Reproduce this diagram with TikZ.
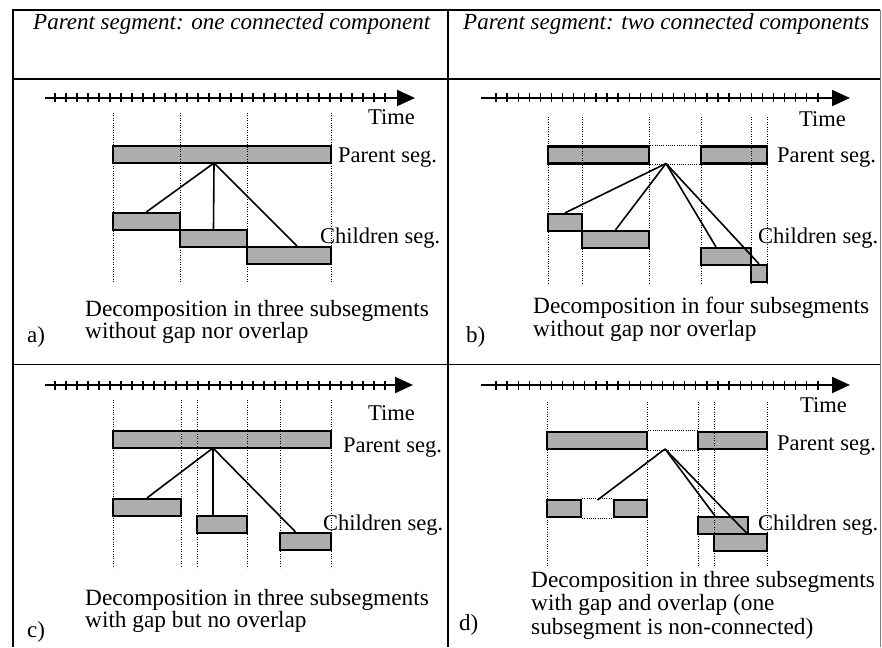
\documentclass[tikz,border=0pt]{standalone}
\usepackage{fontspec}
\setmainfont{Liberation Serif}
\usetikzlibrary{arrows.meta}
\begin{document}
\begin{tikzpicture}[x=1pt,y=-1pt]
    \useasboundingbox (0,0) rectangle (882,647);
    \tikzstyle{frame}=[line width=1.4pt]
    \tikzstyle{seg}=[draw, line width=2.2pt, fill=black!32, inner sep=0pt, minimum height=17pt]
    \tikzstyle{lbl}=[inner sep=0pt, anchor=base west, font=\fontsize{22.5}{24}\selectfont]
    \tikzstyle{head}=[inner sep=0pt, anchor=base west, font=\fontsize{23}{25}\selectfont\itshape]
    \tikzstyle{capt}=[inner sep=0pt, anchor=north west, align=left, font=\fontsize{23.3}{22.5}\selectfont]
    \tikzstyle{grid}=[line width=0.9pt, dash pattern=on 1pt off 1.4pt]
    \tikzstyle{gap}=[line width=1.1pt, dash pattern=on 1pt off 1.2pt]
    \tikzstyle{link}=[line width=1.6pt]
    \tikzstyle{tick}=[line width=1.3pt]
    \tikzstyle{axis}=[line width=2pt, -{Triangle[length=18pt,width=16pt]}]

    % frame
    \draw[frame] (13,647) -- (13,10) -- (880,10);
    \draw[frame] (448,10) -- (448,647);
    \draw[frame] (13,79) -- (880,79);
    \draw[frame] (13,364.5) -- (880,364.5);
    \draw[gray, line width=0.8pt] (880,10) -- (880,647);
    \node[head] (headA) at (33,30) {Parent segment: one connected component};
    \node[head] (headB) at (463,30) {Parent segment: two connected components};

    % a)
    \draw[axis] (45,98) -- (415,98);
    \foreach \i in {0,...,30} \draw[tick] (55+11*\i,93.5) -- ++(0,9);
    \node[seg, minimum width=218pt] (pa) at (222,154.5) {};
    \node[seg, minimum width=67pt] (ca1) at (146.5,221.5) {};
    \node[seg, minimum width=67pt] (ca2) at (213.5,238.5) {};
    \node[seg, minimum width=84pt] (ca3) at (289,255.5) {};
    \foreach \x in {113,180,247,331} \draw[grid] (\x,113) -- (\x,282);
    \coordinate (hubA) at (214,163);
    \draw[link] (hubA) -- (ca1.north);
    \draw[link] (hubA) -- (ca2.north);
    \draw[link] (hubA) -- ([xshift=8pt]ca3.north);
    \node[lbl] (timeA) at (368,125) {Time};
    \node[lbl] (parA) at (338,162) {Parent seg.};
    \node[lbl] (chiA) at (320,243) {Children seg.};
    \node[capt] (capA) at (85,300) {Decomposition in three subsegments\\without gap nor overlap};
    \node[lbl, font=\fontsize{23}{25}\selectfont] (tagA) at (27,342) {a)};

    % b)
    \draw[axis] (481,98) -- (850,98);
    \foreach \i in {0,...,29} \draw[tick] (496+11.1*\i,93.5) -- ++(0,9);
    \node[seg, minimum width=101pt] (pb1) at (598.5,155) {};
    \node[seg, minimum width=66pt] (pb2) at (734,155) {};
    \draw[gap] (pb1.north east) -- (pb2.north west);
    \draw[gap] (pb1.south east) -- (pb2.south west);
    \node[seg, minimum width=34pt] (cb1) at (565,222.5) {};
    \node[seg, minimum width=67pt] (cb2) at (615.5,239.5) {};
    \node[seg, minimum width=50pt] (cb3) at (726,256.5) {};
    \node[seg, minimum width=16pt] (cb4) at (759,273.5) {};
    \foreach \x in {548,582,649,701,751,767} \draw[grid] (\x,117) -- (\x,283);
    \coordinate (hubB) at (666,163.5);
    \draw[link] (hubB) -- (cb1.north);
    \draw[link] (hubB) -- (cb2.north);
    \draw[link] (hubB) -- ([xshift=-10pt]cb3.north);
    \draw[link] (hubB) -- (cb4.north);
    \node[lbl] (timeB) at (799,127) {Time};
    \node[lbl] (parB) at (777,163) {Parent seg.};
    \node[lbl] (chiB) at (758,243) {Children seg.};
    \node[capt] (capB) at (533,297) {Decomposition in four subsegments\\without gap nor overlap};
    \node[lbl, font=\fontsize{23}{25}\selectfont] (tagB) at (466,342) {b)};

    % c)
    \draw[axis] (45,385) -- (413,385);
    \foreach \i in {0,...,30} \draw[tick] (55+11*\i,380.5) -- ++(0,9);
    \node[seg, minimum width=218pt] (pc) at (222,439.5) {};
    \node[seg, minimum width=68pt] (cc1) at (147,507.5) {};
    \node[seg, minimum width=50pt] (cc2) at (222,524.5) {};
    \node[seg, minimum width=51pt] (cc3) at (305.5,541.5) {};
    \foreach \x in {113,181,197,247,280,331} \draw[grid] (\x,400) -- (\x,568);
    \coordinate (hubC) at (213,448);
    \draw[link] (hubC) -- (cc1.north);
    \draw[link] (hubC) -- ([xshift=-9pt]cc2.north);
    \draw[link] (hubC) -- ([xshift=-10pt]cc3.north);
    \node[lbl] (timeC) at (368,420) {Time};
    \node[lbl] (parC) at (343,452) {Parent seg.};
    \node[lbl] (chiC) at (323,530) {Children seg.};
    \node[capt] (capC) at (85,589) {Decomposition in three subsegments\\with gap but no overlap};
    \node[lbl, font=\fontsize{23}{25}\selectfont] (tagC) at (27,637) {c)};

    % d)
    \draw[axis] (481,385) -- (850,385);
    \foreach \i in {0,...,29} \draw[tick] (496+11.1*\i,380.5) -- ++(0,9);
    \node[seg, minimum width=100pt] (pd1) at (597,440.5) {};
    \node[seg, minimum width=69pt] (pd2) at (732.5,440.5) {};
    \draw[gap] (pd1.north east) -- (pd2.north west);
    \draw[gap] (pd1.south east) -- (pd2.south west);
    \node[seg, minimum width=34pt] (cd1) at (564,508.5) {};
    \node[seg, minimum width=33pt] (cd2) at (630.5,508.5) {};
    \draw[gap] (cd1.north east) -- (cd2.north west);
    \draw[gap] (cd1.south east) -- (cd2.south west);
    \node[seg, minimum width=50pt] (cd3) at (723,525.5) {};
    \node[seg, minimum width=53pt] (cd4) at (740.5,542.5) {};
    \foreach \x in {547,647,698,714,767} \draw[grid] (\x,402) -- (\x,567);
    \coordinate (hubD) at (665,449);
    \coordinate (gapD) at (597.5,500);
    \draw[link] (hubD) -- (gapD);
    \draw[link] (hubD) -- ([xshift=-8pt]cd3.north);
    \draw[link] (hubD) -- ([xshift=6pt]cd4.north);
    \node[lbl] (timeD) at (800,412) {Time};
    \node[lbl] (parD) at (777,450) {Parent seg.};
    \node[lbl] (chiD) at (758,530) {Children seg.};
    \node[capt, font=\fontsize{23.3}{23.5}\selectfont] (capD) at (531,571) {Decomposition in three subsegments\\with gap and overlap (one\\subsegment is non-connected)};
    \node[lbl, font=\fontsize{23}{25}\selectfont] (tagD) at (459,630) {d)};
\end{tikzpicture}
\end{document}
